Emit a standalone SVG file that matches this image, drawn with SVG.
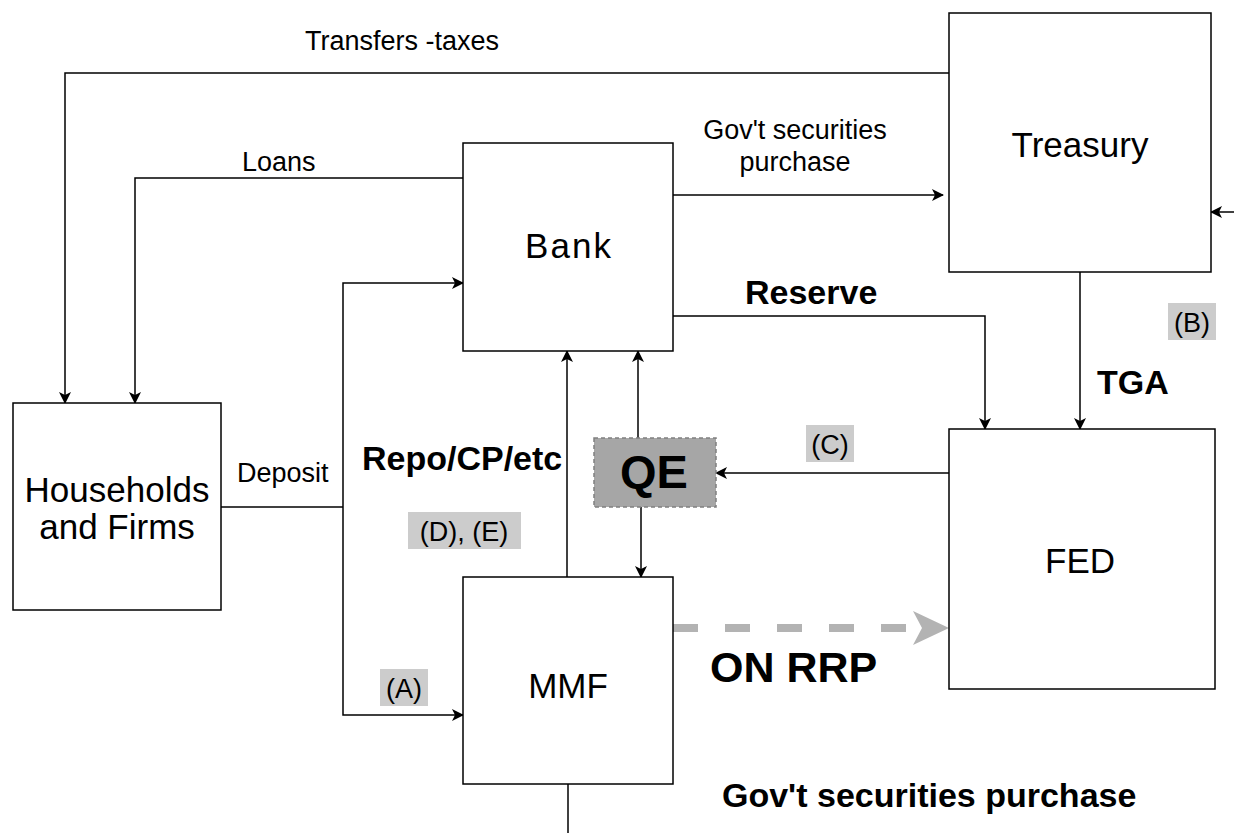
<svg xmlns="http://www.w3.org/2000/svg" width="1234" height="833" viewBox="0 0 1234 833">
<defs>
<marker id="ah" viewBox="0 0 12 12" refX="11" refY="6" markerWidth="12" markerHeight="12" markerUnits="userSpaceOnUse" orient="auto">
<path d="M0,0 L12,6 L0,12 L3,6 Z" fill="#000"/>
</marker>
<marker id="gh" viewBox="0 0 36 36" refX="2" refY="18" markerWidth="36" markerHeight="36" markerUnits="userSpaceOnUse" orient="auto">
<path d="M0,1 L36,18 L0,35 L9,18 Z" fill="#b3b3b3"/>
</marker>
<style>
.box{fill:#fff;stroke:#000;stroke-width:1.5}
.c{fill:none;stroke:#000;stroke-width:1.5;marker-end:url(#ah)}
.l{fill:none;stroke:#000;stroke-width:1.5}
.t{font-family:"Liberation Sans",Arial,sans-serif;fill:#000}
.nt{font-size:35px;text-anchor:middle}
.sm{font-size:27px}
.b{font-weight:bold;font-size:34px}
.tag{fill:#cccccc}
</style>
</defs>
<rect width="1234" height="833" fill="#fff"/>
<g id="connectors">
<path class="c" d="M949,73 H65 V403"/>
<path class="c" d="M463,178 H135 V403"/>
<path class="c" d="M673,195 H943"/>
<path class="c" d="M673,316 H985 V429"/>
<path class="c" d="M1080,272 V429"/>
<path class="c" d="M1234,212 H1211"/>
<path class="l" d="M221,507 H343"/>
<path class="c" d="M343,507 V283 H463"/>
<path class="c" d="M343,507 V715 H463"/>
<path class="c" d="M567,577 V351"/>
<path class="c" d="M638,438 V351"/>
<path class="c" d="M641,507 V577"/>
<path class="c" d="M949,473 H716"/>
<path fill="none" stroke="#b3b3b3" stroke-width="8" stroke-dasharray="25,27" d="M673,628 H915" marker-end="url(#gh)"/>
<path class="l" d="M568,784 V833"/>
</g>
<g id="treasury"><rect class="box" x="949" y="13" width="262" height="259"/><text class="t nt" x="1080" y="157">Treasury</text></g>
<g id="bank"><rect class="box" x="463" y="143" width="210" height="208"/><text class="t nt" x="569" y="258" letter-spacing="2">Bank</text></g>
<g id="households"><rect class="box" x="13" y="403" width="208" height="207"/><text class="t nt" x="117" y="502">Households</text><text class="t nt" x="117" y="539">and Firms</text></g>
<g id="fed"><rect class="box" x="949" y="429" width="266" height="260"/><text class="t nt" x="1080" y="573">FED</text></g>
<g id="mmf"><rect class="box" x="463" y="577" width="210" height="207"/><text class="t nt" x="568" y="698">MMF</text></g>
<g id="qe"><rect x="594" y="438" width="122" height="69" fill="#a6a6a6" stroke="#808080" stroke-width="1.5" stroke-dasharray="4,3"/><text class="t" x="654" y="488" font-size="47" font-weight="bold" text-anchor="middle" fill="#333">QE</text></g>
<g id="labels">
<text class="t sm" x="305" y="50">Transfers -taxes</text>
<text class="t sm" x="242" y="171">Loans</text>
<text class="t sm" x="795" y="139" text-anchor="middle">Gov't securities</text>
<text class="t sm" x="795" y="171" text-anchor="middle">purchase</text>
<text class="t b" x="745" y="304">Reserve</text>
<text class="t b" x="1097" y="394">TGA</text>
<rect class="tag" x="1168" y="303" width="48" height="37"/>
<text class="t sm" x="1192" y="332" text-anchor="middle">(B)</text>
<text class="t sm" x="237" y="482">Deposit</text>
<text class="t b" x="362" y="470">Repo/CP/etc</text>
<rect class="tag" x="806" y="425" width="48" height="37"/>
<text class="t sm" x="830" y="454" text-anchor="middle">(C)</text>
<rect class="tag" x="408" y="512" width="113" height="37"/>
<text class="t sm" x="464" y="541" text-anchor="middle">(D), (E)</text>
<rect class="tag" x="380" y="669" width="48" height="37"/>
<text class="t sm" x="404" y="698" text-anchor="middle">(A)</text>
<text class="t" x="710" y="682" font-size="43" font-weight="bold">ON RRP</text>
<text class="t b" x="722" y="807">Gov't securities purchase</text>
</g>
</svg>
